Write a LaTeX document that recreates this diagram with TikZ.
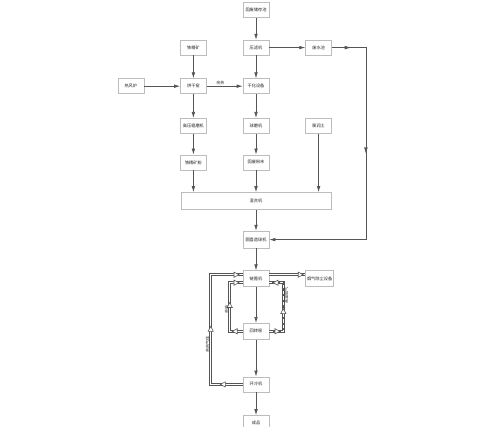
\documentclass[tikz,border=0pt]{standalone}
\usepackage{fontspec}
\newfontfamily\cjk{Noto Sans CJK SC}
\usepackage{tikz}
\usetikzlibrary{arrows.meta,positioning,calc,decorations.markings}
\definecolor{cB}{HTML}{BDBDBD}
\definecolor{cL}{HTML}{555555}
\definecolor{cT}{HTML}{222222}
\tikzset{
  sol/.tip={Latex[length=6pt,width=3.6pt]},
  box/.style={draw=cB,line width=0.6pt,fill=white,minimum width=26pt,minimum height=15pt,
              inner sep=0pt,text=cT,font=\cjk\fontsize{4.2}{5}\selectfont},
  lbl/.style={inner sep=0.5pt,text=cT,font=\cjk\fontsize{4}{5}\selectfont},
  flow/.style={-sol,line width=0.7pt,cL},
  loopline/.style={draw=white,line width=1.3pt,preaction={draw=cL,line width=2.6pt},postaction={decorate}},
  dloop/.style={loopline,dash pattern=on 3.5pt off 2.2pt},
  marks/.style={decoration={markings,#1}},
  /pgf/decoration/hm/.style={mark=at position #1 with {\draw[cL,fill=white,line width=0.6pt,solid]
             (1.5pt,0)--(-3.5pt,2.6pt)--(-3.5pt,-2.6pt)--cycle;}},
  /pgf/decoration/fm/.style={mark=at position #1 with {\fill[cL] (1pt,0)--(-5pt,1.8pt)--(-5pt,-1.8pt)--cycle;}},
}
\begin{document}
\begin{tikzpicture}
  \useasboundingbox (0,0) rectangle (500pt,-427pt);
  \node[box] (gfc) at (256pt,-10pt) {固废储存池};
  \node[box,below=22pt of gfc] (ylj) {压滤机};
  \node[box,right=36pt of ylj] (fsc) {废水池};
  \node[box,left=36pt of ylj] (tjk) {铁精矿};
  \node[box,below=23pt of ylj] (ghsb) {干化设备};
  \node[box,left=36pt of ghsb] (hgy) {烘干窑};
  \node[box,left=36pt of hgy] (rfl) {热风炉};
  \node[box,below=24pt of ghsb] (qmj) {球磨机};
  \node[box,left=36pt of qmj] (gyg) {高压辊磨机};
  \node[box,right=36pt of qmj] (prt) {膨润土};
  \node[box,below=21pt of qmj] (gffm) {固废粉末};
  \node[box,left=36pt of gffm] (tjkf) {铁精矿粉};
  \node[box,minimum width=150pt,minimum height=17pt,below=22pt of gffm] (hhj) {混合机};
  \node[box,minimum height=17pt,below=21pt of hhj] (yp) {圆盘造球机};
  \node[box,minimum height=16pt,below=22pt of yp] (lbj) {链篦机};
  \node[box,minimum width=28pt,minimum height=16pt,right=36pt of lbj] (ycc) {烟气除尘设备};
  \node[box,minimum height=16pt,below=36pt of lbj] (hzy) {回转窑};
  \node[box,below=37pt of hzy] (hlj) {环冷机};
  \node[box,below=23pt of hlj] (cp) {成品};
  \coordinate[right=34pt of fsc.east] (rc);
  \coordinate (lt) at ([yshift=4pt]lbj.west);\coordinate (lb) at ([yshift=-4pt]lbj.west);
  \coordinate (rt) at ([yshift=4pt]lbj.east);\coordinate (rb) at ([yshift=-4pt]lbj.east);

  \draw[flow](gfc)--(ylj);\draw[flow](ylj)--(fsc);\draw[flow](tjk)--(hgy);
  \draw[flow](rfl)--(hgy);\draw[flow](ylj)--(ghsb);
  \draw[flow](hgy)-- node[lbl,above=1pt,pos=0.38] (yr) {余热} (ghsb);
  \draw[flow](hgy)--(gyg);\draw[flow](gyg)--(tjkf);
  \draw[flow](ghsb)--(qmj);\draw[flow](qmj)--(gffm);
  \draw[flow](tjkf)--(tjkf|-hhj.north);\draw[flow](gffm)--(hhj);\draw[flow](prt)--(prt|-hhj.north);
  \draw[flow,postaction={decorate},marks={fm=0.055,fm=0.43}] (fsc)--(rc)|-(yp);
  \draw[flow](hhj)--(yp);\draw[flow](yp)--(lbj);\draw[flow](lbj)--(hzy);
  \draw[flow](hzy)--(hlj);\draw[flow](hlj)--(cp);

  \draw[loopline,marks={hm=0.9}] (rt)--(rt-|ycc.west);
  \draw[loopline,marks={hm=0.12,hm=0.51,hm=0.97}]
        (hlj.west)--++(-32pt,0) coordinate (oa)
        -- node[lbl,rotate=90,above=2pt,pos=0.35] (yrqt) {余热气体} (oa|-lt)--(lt);
  \draw[loopline,marks={hm=0.12,hm=0.54,hm=0.93}]
        (hzy.west)--++(-13pt,0) coordinate (ia)
        -- node[lbl,rotate=90,above=2pt,pos=0.4] (yr2) {余热} (ia|-lb)--(lb);
  \draw[dloop,marks={hm=0.12,hm=0.46,hm=0.93}]
        (hzy.east)--++(14pt,0) coordinate (da)
        -- node[lbl,rotate=90,below=2pt,pos=0.77] (gwyq) {高温烟气} (da|-rb)--(rb);
\end{tikzpicture}
\end{document}
